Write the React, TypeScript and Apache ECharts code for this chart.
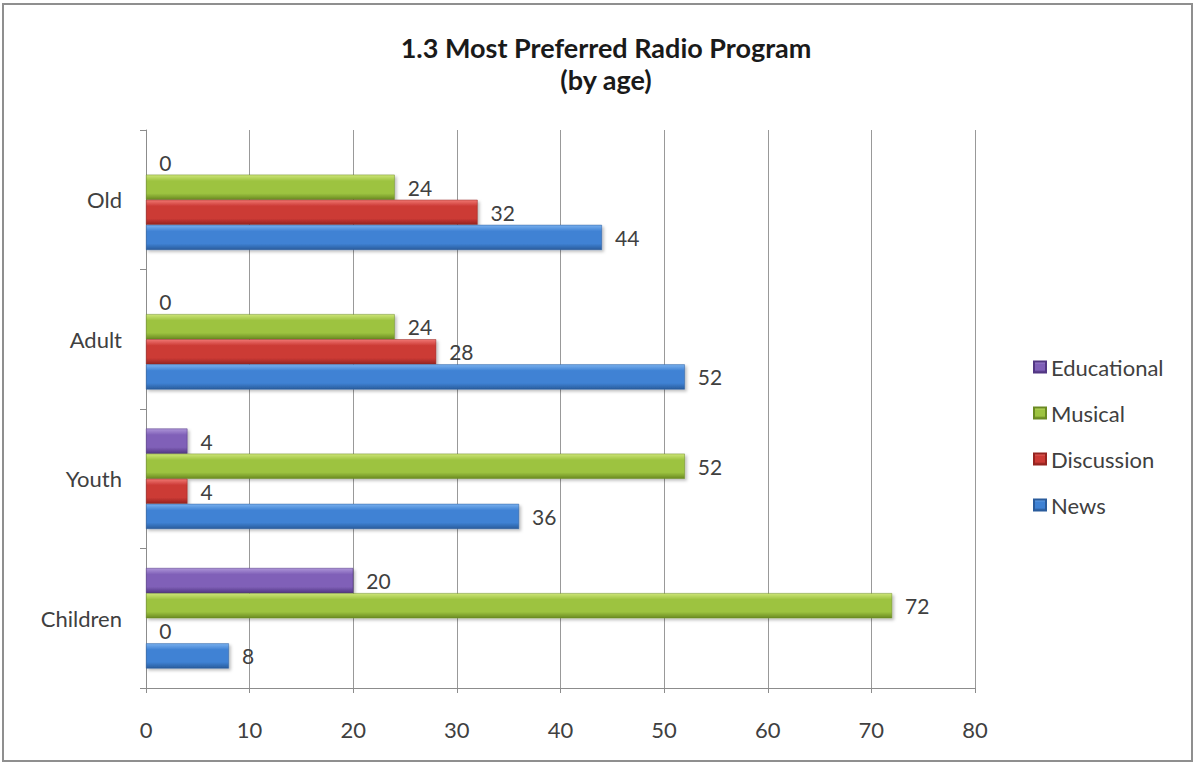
import React, { useEffect, useRef } from "react";
import * as echarts from "echarts";

const categories = ["Children", "Youth", "Adult", "Old"];
const newsValues = [8, 36, 52, 44];
const discussionValues = [0, 4, 28, 32];
const musicalValues = [72, 52, 24, 24];
const educationalValues = [20, 4, 0, 0];
const legendOrder = ["Educational", "Musical", "Discussion", "News"];

const FONT = "Lato, 'Open Sans', 'Noto Sans', sans-serif";

function grad(top: string, mid: string, bottom: string) {
  return new echarts.graphic.LinearGradient(0, 0, 0, 1, [
    { offset: 0, color: top },
    { offset: 0.25, color: mid },
    { offset: 0.75, color: mid },
    { offset: 1, color: bottom },
  ]);
}

export default function App() {
  const ref = useRef<HTMLDivElement>(null);
  useEffect(() => {
    if (!ref.current) return;
    const chart = echarts.init(ref.current, null, { renderer: "svg" });
    const label = {
      show: true,
      position: "right" as const,
      distance: 13,
      fontSize: 21,
      color: "#404040",
      fontFamily: FONT,
    };
    const mk = (name: string, data: number[], c: [string, string, string]) => ({
      name,
      type: "bar" as const,
      data,
      barGap: "0%",
      barCategoryGap: "28%",
      label,
      itemStyle: {
        color: grad(c[0], c[1], c[2]),
        borderColor: c[2],
        borderWidth: 0.5,
        shadowColor: "rgba(0,0,0,0.25)",
        shadowBlur: 3,
        shadowOffsetX: 2,
        shadowOffsetY: 2,
      },
    });
    chart.setOption({
      animation: false,
      backgroundColor: "#ffffff",
      title: {
        text: "1.3 Most Preferred Radio Program\n(by age)",
        left: 601,
        textAlign: "center",
        top: 26,
        textStyle: {
          fontFamily: FONT,
          fontSize: 27,
          fontWeight: "bold",
          color: "#1a1a1a",
          lineHeight: 32,
        },
      },
      legend: {
        orient: "vertical",
        left: 1028,
        top: 351,
        itemGap: 24,
        itemWidth: 12,
        itemHeight: 11,
        icon: "rect",
        data: legendOrder,
        textStyle: { fontFamily: FONT, fontSize: 22, color: "#404040" },
      },
      grid: { left: 146, right: 220, top: 130, bottom: 81 },
      xAxis: {
        type: "value",
        min: 0,
        max: 80,
        interval: 10,
        axisLine: { show: true, lineStyle: { color: "#8c8c8c" } },
        axisTick: { show: true, length: 5, lineStyle: { color: "#8c8c8c" } },
        axisLabel: { margin: 30, fontSize: 22, color: "#404040", fontFamily: FONT },
        splitLine: { show: true, lineStyle: { color: "#999999", width: 1 } },
      },
      yAxis: {
        type: "category",
        data: categories,
        axisLine: { show: true, lineStyle: { color: "#8c8c8c" } },
        axisTick: { show: true, length: 6, lineStyle: { color: "#8c8c8c" } },
        axisLabel: { margin: 24, fontSize: 22, color: "#404040", fontFamily: FONT },
      },
      graphic: [
        {
          type: "rect",
          shape: { x: 3, y: 4, width: 1189, height: 757 },
          style: { fill: "none", stroke: "#8f8f8f", lineWidth: 2 },
          silent: true,
        },
      ],
      series: [
        mk("Educational", educationalValues, ["#ad95d8", "#8060b8", "#523783"]),
        mk("Musical", musicalValues, ["#cde578", "#9dc340", "#6a8a22"]),
        mk("Discussion", discussionValues, ["#f07773", "#cc3a35", "#952420"]),
        mk("News", newsValues, ["#79b0ee", "#3f82d4", "#2a5c9c"]),
      ],
    });
    return () => chart.dispose();
  }, []);
  return (
    <div
      ref={ref}
      style={{ position: "absolute", left: 0, top: 0, width: 1195, height: 769 }}
    />
  );
}
